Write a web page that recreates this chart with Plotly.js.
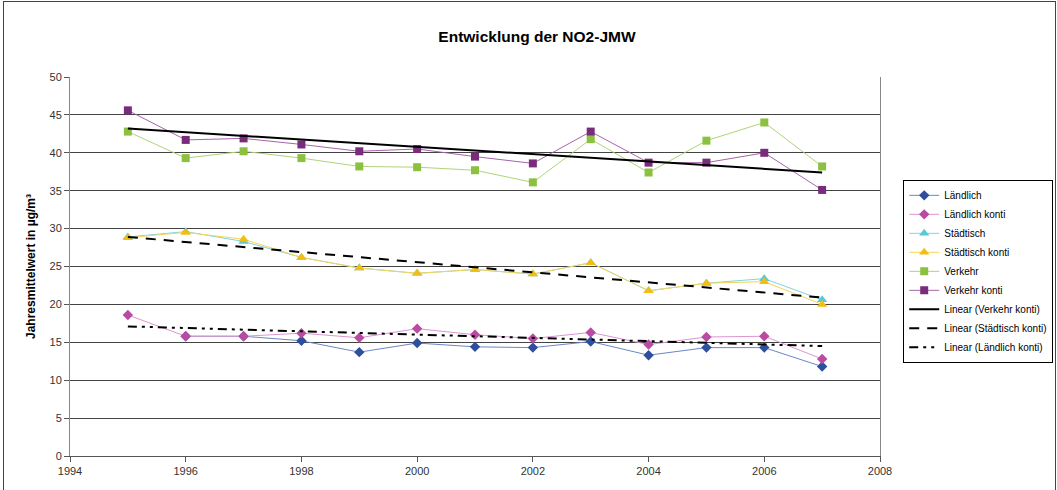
<!DOCTYPE html>
<html>
<head>
<meta charset="utf-8">
<script src="https://cdn.plot.ly/plotly-3.0.1.min.js"></script>
<style>
html,body{margin:0;padding:0;background:#fff;}
#wrap{position:relative;width:1057px;height:490px;}
#chart{width:1057px;height:490px;}
#frame{position:absolute;left:3px;top:1px;width:1051px;height:495px;border:1px solid #444;pointer-events:none;}
</style>
</head>
<body>
<div id="wrap"><div id="chart"></div><div id="frame"></div></div>
<script>
const years = [1995,1996,1997,1998,1999,2000,2001,2002,2003,2004,2005,2006,2007];
const laendlich      = [null,15.8,15.8,15.2,13.7,14.9,14.4,14.3,15.1,13.3,14.3,14.3,11.8];
const laendlichKonti = [18.6,15.8,15.8,16.2,15.6,16.8,16.0,15.5,16.3,14.7,15.7,15.8,12.8];
const staedtisch     = [28.9,29.6,28.3,26.2,24.8,24.1,24.6,24.0,25.5,21.8,22.8,23.4,20.6];
const staedtischKonti= [28.8,29.5,28.6,26.2,24.8,24.1,24.6,24.0,25.5,21.8,22.8,23.0,20.0];
const verkehr        = [42.8,39.3,40.2,39.3,38.2,38.1,37.7,36.1,41.8,37.4,41.6,44.0,38.2];
const verkehrKonti   = [45.6,41.7,41.9,41.1,40.2,40.5,39.5,38.6,42.8,38.7,38.7,40.0,35.1];
const trendYears = [1995, 2007];
const trendVerkehrKonti    = [43.2, 37.4];
const trendStaedtischKonti = [28.9, 20.9];
const trendLaendlichKonti  = [17.1, 14.5];
const xTicks = [1994,1996,1998,2000,2002,2004,2006,2008];
const yTicks = [0,5,10,15,20,25,30,35,40,45,50];

function series(name, y, lineColor, markerColor, symbol, size){
  return {x: years, y: y, name: name, type: 'scatter', mode: 'lines+markers',
    connectgaps: false,
    line: {color: lineColor, width: 1},
    marker: {color: markerColor, symbol: symbol, size: size, line: {width: 0}}};
}
function trend(name, y, dash, width){
  return {x: trendYears, y: y, name: name, type: 'scatter', mode: 'lines',
    line: {color: '#000', width: width, dash: dash}};
}
const data = [
  series('Ländlich', laendlich, '#6B86C8', '#2E4E9E', 'diamond', 8),
  series('Ländlich konti', laendlichKonti, '#DB96CF', '#BA4AA2', 'diamond', 8),
  series('Städtisch', staedtisch, '#7FD4E0', '#5BC8D8', 'triangle-up', 9),
  series('Städtisch konti', staedtischKonti, '#F6D45A', '#F2BE12', 'triangle-up', 9),
  series('Verkehr', verkehr, '#ADD578', '#8CC140', 'square', 8),
  series('Verkehr konti', verkehrKonti, '#A565A8', '#7A2B7B', 'square', 8),
  trend('Linear (Verkehr konti)', trendVerkehrKonti, 'solid', 2),
  trend('Linear (Städtisch konti)', trendStaedtischKonti, '10px,8px', 2),
  trend('Linear (Ländlich konti)', trendLaendlichKonti, '9px,5px,3px,5px,3px,5px', 2)
];
const layout = {
  width: 1057, height: 490,
  margin: {l: 70, r: 177, t: 77, b: 34},
  paper_bgcolor: '#fff', plot_bgcolor: '#fff',
  font: {family: 'Liberation Sans, Arial, sans-serif', size: 11, color: '#333'},
  title: {text: '<b>Entwicklung der NO2-JMW</b>', x: 0.508, xref: 'container', xanchor: 'center',
    y: 0.925, yref: 'container', yanchor: 'middle',
    font: {family: 'Liberation Sans, Arial, sans-serif', size: 15.5, color: '#000'}},
  xaxis: {range: [1994, 2008], tickvals: xTicks, ticktext: xTicks.map(String),
    showgrid: false, zeroline: false, showline: true, linecolor: '#555', linewidth: 1,
    ticks: 'outside', ticklen: 5, tickcolor: '#555', tickfont: {size: 11, color: '#333'}},
  yaxis: {range: [0, 50], tickvals: yTicks, showgrid: true, gridcolor: '#444', gridwidth: 1,
    zeroline: false, showline: true, mirror: true, linecolor: '#888', linewidth: 1,
    ticks: 'outside', ticklen: 5, tickcolor: '#555', tickfont: {size: 11, color: '#333'},
    title: {text: '<b>Jahresmittelwert in µg/m³</b>', standoff: 11,
      font: {size: 12, color: '#000'}}},
  showlegend: true,
  legend: {xref: 'container', yref: 'container', x: 0.8545, xanchor: 'left', y: 0.633, yanchor: 'top',
    bgcolor: '#fff', bordercolor: '#000', borderwidth: 1,
    font: {size: 10, color: '#000'}, tracegroupgap: 0}
};
Plotly.newPlot('chart', data, layout, {displayModeBar: false, staticPlot: true});
</script>
</body>
</html>
